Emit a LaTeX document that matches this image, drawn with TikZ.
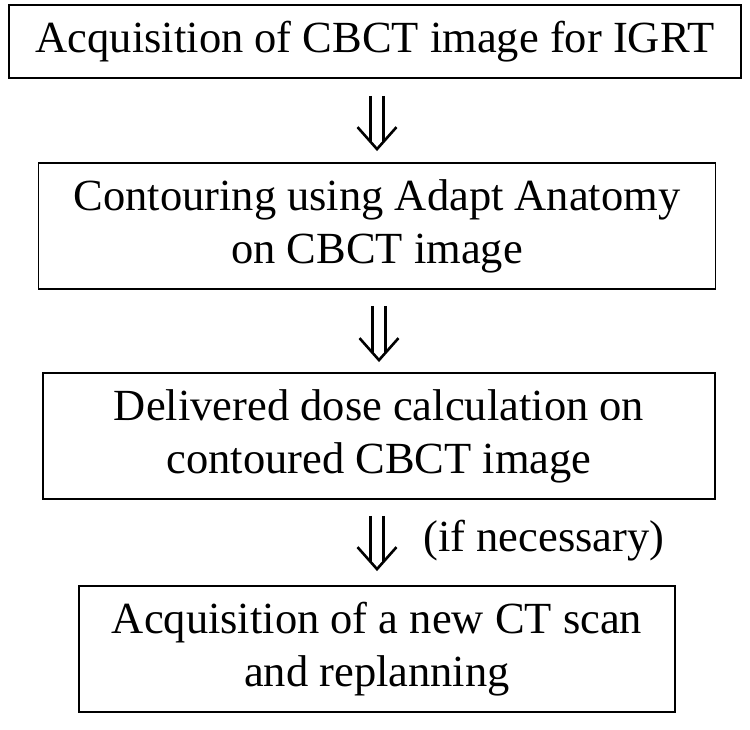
\documentclass[tikz,border=0pt]{standalone}
\usepackage{fontspec}
\setmainfont{Liberation Serif}
\usetikzlibrary{calc}

\tikzset{
  stepbox/.style={draw, line width=1.8pt, align=center, inner sep=0pt,
    font=\fontsize{44.5}{53}\selectfont},
  notetext/.style={font=\fontsize{44.5}{53}\selectfont},
  shaft/.style={line width=2.6pt},
  arrowhead/.style={line width=2.6pt, line join=miter},
}

\begin{document}
\begin{tikzpicture}[x=1pt,y=1pt]
        \useasboundingbox (0,0) rectangle (750,-729);

        % Steps
        \node[stepbox, minimum width=732pt, minimum height=73pt] (acq) at (375,-41.5) {Acquisition of CBCT image for IGRT};
        \node[stepbox, minimum width=677pt, minimum height=126pt] (cont) at (377,-226) {Contouring using Adapt Anatomy\\on CBCT image};
        \node[stepbox, minimum width=672pt, minimum height=126pt] (dose) at (379,-436) {Delivered dose calculation on\\contoured CBCT image};
        \node[stepbox, minimum width=596pt, minimum height=126pt] (replan) at (377,-649) {Acquisition of a new CT scan\\and replanning};

        % Arrow 1
        \coordinate (tip1) at ($(cont.north)+(0,13)$);
        \coordinate (tail1) at ($(acq.south -| tip1)+(0,-17)$);
        \draw[shaft] ($(tail1)+(-6.5,0)$) -- ($(tip1)+(-6.5,7)$);
        \draw[shaft] ($(tail1)+(6.5,0)$) -- ($(tip1)+(6.5,7)$);
        \draw[arrowhead] ($(tip1)+(-19.5,22)$) -- (tip1) -- ($(tip1)+(19.5,22)$);

        % Arrow 2
        \coordinate (tip2) at ($(dose.north)+(0,12)$);
        \coordinate (tail2) at ($(cont.south -| tip2)+(0,-16)$);
        \draw[shaft] ($(tail2)+(-6.5,0)$) -- ($(tip2)+(-6.5,7)$);
        \draw[shaft] ($(tail2)+(6.5,0)$) -- ($(tip2)+(6.5,7)$);
        \draw[arrowhead] ($(tip2)+(-19.5,22)$) -- (tip2) -- ($(tip2)+(19.5,22)$);

        % Arrow 3
        \coordinate (tip3) at ($(replan.north)+(0,16)$);
        \coordinate (tail3) at ($(dose.south -| tip3)+(0,-16)$);
        \draw[shaft] ($(tail3)+(-6.5,0)$) -- ($(tip3)+(-6.5,7)$);
        \draw[shaft] ($(tail3)+(6.5,0)$) -- ($(tip3)+(6.5,7)$);
        \draw[arrowhead] ($(tip3)+(-19.5,22)$) -- (tip3) -- ($(tip3)+(19.5,22)$);
        \node[notetext] (ifnec) at (544,-541) {(if necessary)};
\end{tikzpicture}
\end{document}
